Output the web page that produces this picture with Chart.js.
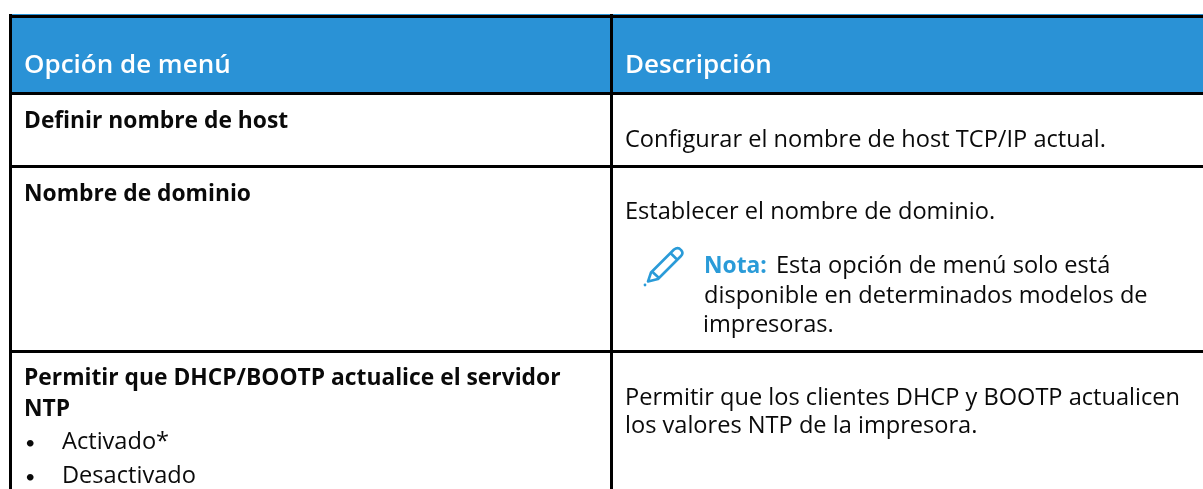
<!DOCTYPE html>
<html>
<head>
<meta charset="utf-8">
<style>
  html, body { margin: 0; padding: 0; background: #fff; }
  canvas { display: block; }
</style>
<script src="https://cdn.jsdelivr.net/npm/chart.js@4"></script>
</head>
<body>
<canvas id="menuTable" width="1203" height="489"></canvas>
<script>
const headers = ['Opción de menú', 'Descripción'];
const optionLines = ['Definir nombre de host', 'Nombre de dominio', 'Permitir que DHCP/BOOTP actualice el servidor', 'NTP'];
const choiceLines = ['Activado*', 'Desactivado'];
const descriptionLines = [
  'Configurar el nombre de host TCP/IP actual.',
  'Establecer el nombre de dominio.',
  'Permitir que los clientes DHCP y BOOTP actualicen',
  'los valores NTP de la impresora.'
];
const noteLabel = 'Nota:';
const noteLines = ['Esta opción de menú solo está', 'disponible en determinados modelos de', 'impresoras.'];

// table rules
const columnRules = [10.5, 611];
const rowRules = [16.5, 93, 166, 351];
const headerSpan = [14, 93];

const FONT = '"Open Sans", sans-serif';

const cellText = {
  id: 'cellText',
  afterDatasetsDraw(chart) {
    const { ctx, scales: { x, y } } = chart;
    const put = (text, px, py, font, color) => {
      ctx.font = font;
      ctx.fillStyle = color;
      ctx.fillText(text, x.getPixelForValue(px), y.getPixelForValue(py));
    };
    const bold = `700 22.8px ${FONT}`;
    const regular = `23.6px ${FONT}`;
    const bullet = '18px Lato, sans-serif';
    const ink = '#0a0a0a';
    const accent = '#2a9bd8';

    ctx.save();
    ctx.textBaseline = 'alphabetic';
    ctx.textAlign = 'left';

    put(headers[0], 24, 73, `600 26px ${FONT}`, '#fff');
    put(headers[1], 625, 73, `600 26px ${FONT}`, '#fff');

    [128, 201, 385, 416].forEach((py, i) => put(optionLines[i], 24, py, bold, ink));
    put('•', 25, 449, bullet, ink);
    put('•', 25, 483, bullet, ink);
    put(choiceLines[0], 62, 449, regular, ink);
    put(choiceLines[1], 62, 483, regular, ink);

    [147, 219, 405, 433].forEach((py, i) => put(descriptionLines[i], 625, py, regular, ink));

    put(noteLabel, 704, 273, bold, accent);
    put(noteLines[0], 776, 273, regular, ink);
    put(noteLines[1], 704, 303, regular, ink);
    put(noteLines[2], 703, 332, regular, ink);

    // note pencil
    ctx.strokeStyle = accent;
    ctx.lineWidth = 2.6;
    ctx.lineJoin = 'round';
    ctx.beginPath();
    ctx.moveTo(648, 281.5);
    ctx.lineTo(651, 272.5);
    ctx.lineTo(674, 249.5);
    ctx.quadraticCurveTo(678, 246.5, 681, 250);
    ctx.quadraticCurveTo(684, 253, 681, 256);
    ctx.lineTo(658, 279);
    ctx.closePath();
    ctx.moveTo(670.5, 253);
    ctx.lineTo(677.5, 260);
    ctx.moveTo(652, 271.5);
    ctx.lineTo(659, 278);
    ctx.stroke();
    ctx.beginPath();
    ctx.arc(645, 285, 1.4, 0, Math.PI * 2);
    ctx.fillStyle = accent;
    ctx.fill();
    ctx.restore();
  }
};

new Chart(document.getElementById('menuTable'), {
  type: 'bar',
  plugins: [cellText],
  data: {
    datasets: [{
      label: headers.join(' / '),
      data: [{ x: (9 + 1203) / 2, y: headerSpan }],
      backgroundColor: '#2a92d6',
      barThickness: 1194,
      borderWidth: 0
    }]
  },
  options: {
    responsive: false,
    animation: false,
    events: [],
    layout: { padding: { left: 9, top: 14, right: 0, bottom: 0 } },
    plugins: { legend: { display: false }, tooltip: { enabled: false } },
    scales: {
      x: {
        type: 'linear',
        offset: false,
        min: 9,
        max: 1203,
        afterBuildTicks: (axis) => { axis.ticks = columnRules.map((value) => ({ value })); },
        ticks: { display: false },
        border: { display: false },
        grid: { color: '#000', lineWidth: 3, drawTicks: false, offset: false, z: 1 }
      },
      y: {
        type: 'linear',
        reverse: true,
        min: 14,
        max: 489,
        afterBuildTicks: (axis) => { axis.ticks = rowRules.map((value) => ({ value })); },
        ticks: { display: false },
        border: { display: false },
        grid: { color: '#000', lineWidth: 3, drawTicks: false, z: 1 }
      }
    }
  }
});
</script>
</body>
</html>
